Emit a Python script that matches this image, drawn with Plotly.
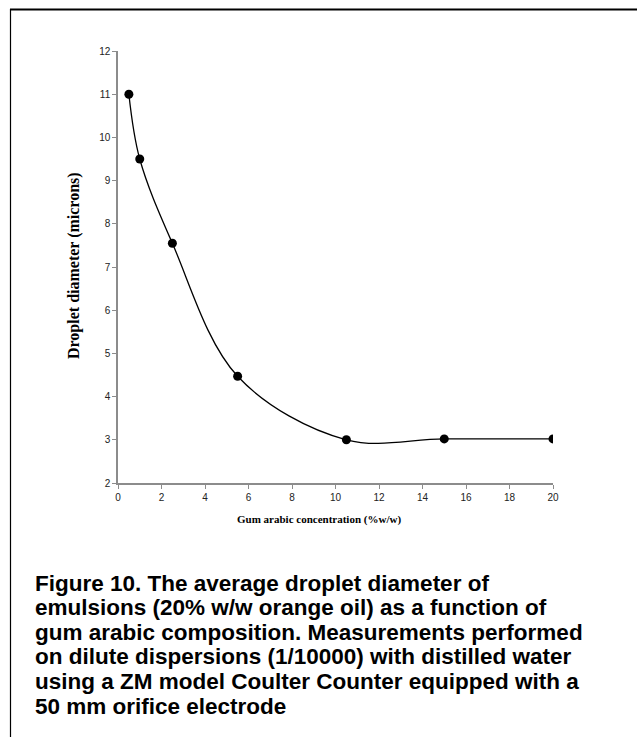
import plotly.graph_objects as go

# Gum arabic concentration (%w/w) and mean droplet diameter (microns)
concentration = [0.5, 1.0, 2.5, 5.5, 10.5, 15.0, 20.0]
diameter = [11.0, 9.5, 7.55, 4.47, 3.0, 3.02, 3.02]

x_ticks = [0, 2, 4, 6, 8, 10, 12, 14, 16, 18, 20]
y_ticks = [2, 3, 4, 5, 6, 7, 8, 9, 10, 11, 12]

caption_lines = [
    "Figure 10. The average droplet diameter of",
    "emulsions (20% w/w orange oil) as a function of",
    "gum arabic composition. Measurements performed",
    "on dilute dispersions (1/10000) with distilled water",
    "using a ZM model Coulter Counter equipped with a",
    "50 mm orifice electrode",
]

W, H = 637, 737
L, R, T, B = 118, 84, 51, 254
PW, PH = W - L - R, H - T - B


def px(x):
    return (x - L) / PW


def py(y):
    return (H - B - y) / PH


fig = go.Figure()
fig.add_trace(go.Scatter(
    x=concentration, y=diameter,
    mode="lines+markers",
    line=dict(color="black", width=1.3, shape="spline", smoothing=1.0),
    marker=dict(color="black", size=9),
    showlegend=False,
    hoverinfo="skip",
))

axis_common = dict(
    showgrid=False, zeroline=False,
    showline=True, linecolor="#8c8c8c", linewidth=1.5,
    ticks="outside", ticklen=4, tickwidth=1, tickcolor="#8c8c8c",
    tickfont=dict(family="Liberation Sans, Arial", size=10, color="#222"),
)

fig.update_xaxes(range=[0, 20], tickvals=x_ticks, **axis_common)
fig.update_yaxes(range=[2, 12], tickvals=y_ticks, **axis_common)

serif = "Liberation Serif, Times New Roman"
caption_font = dict(family="Liberation Sans, Arial", size=22.5, color="black")

annotations = [
    dict(text="<b>Gum arabic concentration (%w/w)</b>", xref="paper", yref="paper",
         x=px(319), y=py(519), xanchor="center", yanchor="middle",
         showarrow=False, font=dict(family=serif, size=11, color="black")),
    dict(text="<b>Droplet diameter (microns)</b>", xref="paper", yref="paper",
         x=px(74), y=py(266), xanchor="center", yanchor="middle", textangle=-90,
         showarrow=False, font=dict(family=serif, size=16, color="black")),
]

# caption set line by line for tight leading
for i, line in enumerate(caption_lines):
    annotations.append(dict(
        text="<b>" + line + "</b>", xref="paper", yref="paper",
        x=px(33), y=py(583 + 24.6 * i), xanchor="left", yanchor="middle",
        showarrow=False, font=caption_font,
    ))

shapes = [
    dict(type="line", xref="paper", yref="paper", x0=px(10), x1=px(W), y0=py(9.5), y1=py(9.5),
         line=dict(color="black", width=2)),
    dict(type="line", xref="paper", yref="paper", x0=px(10.5), x1=px(10.5), y0=py(9), y1=py(H),
         line=dict(color="black", width=1.2)),
]

fig.update_layout(
    width=W, height=H,
    margin=dict(l=L, r=R, t=T, b=B),
    paper_bgcolor="white", plot_bgcolor="white",
    annotations=annotations, shapes=shapes,
)

fig.write_html("out.html")
